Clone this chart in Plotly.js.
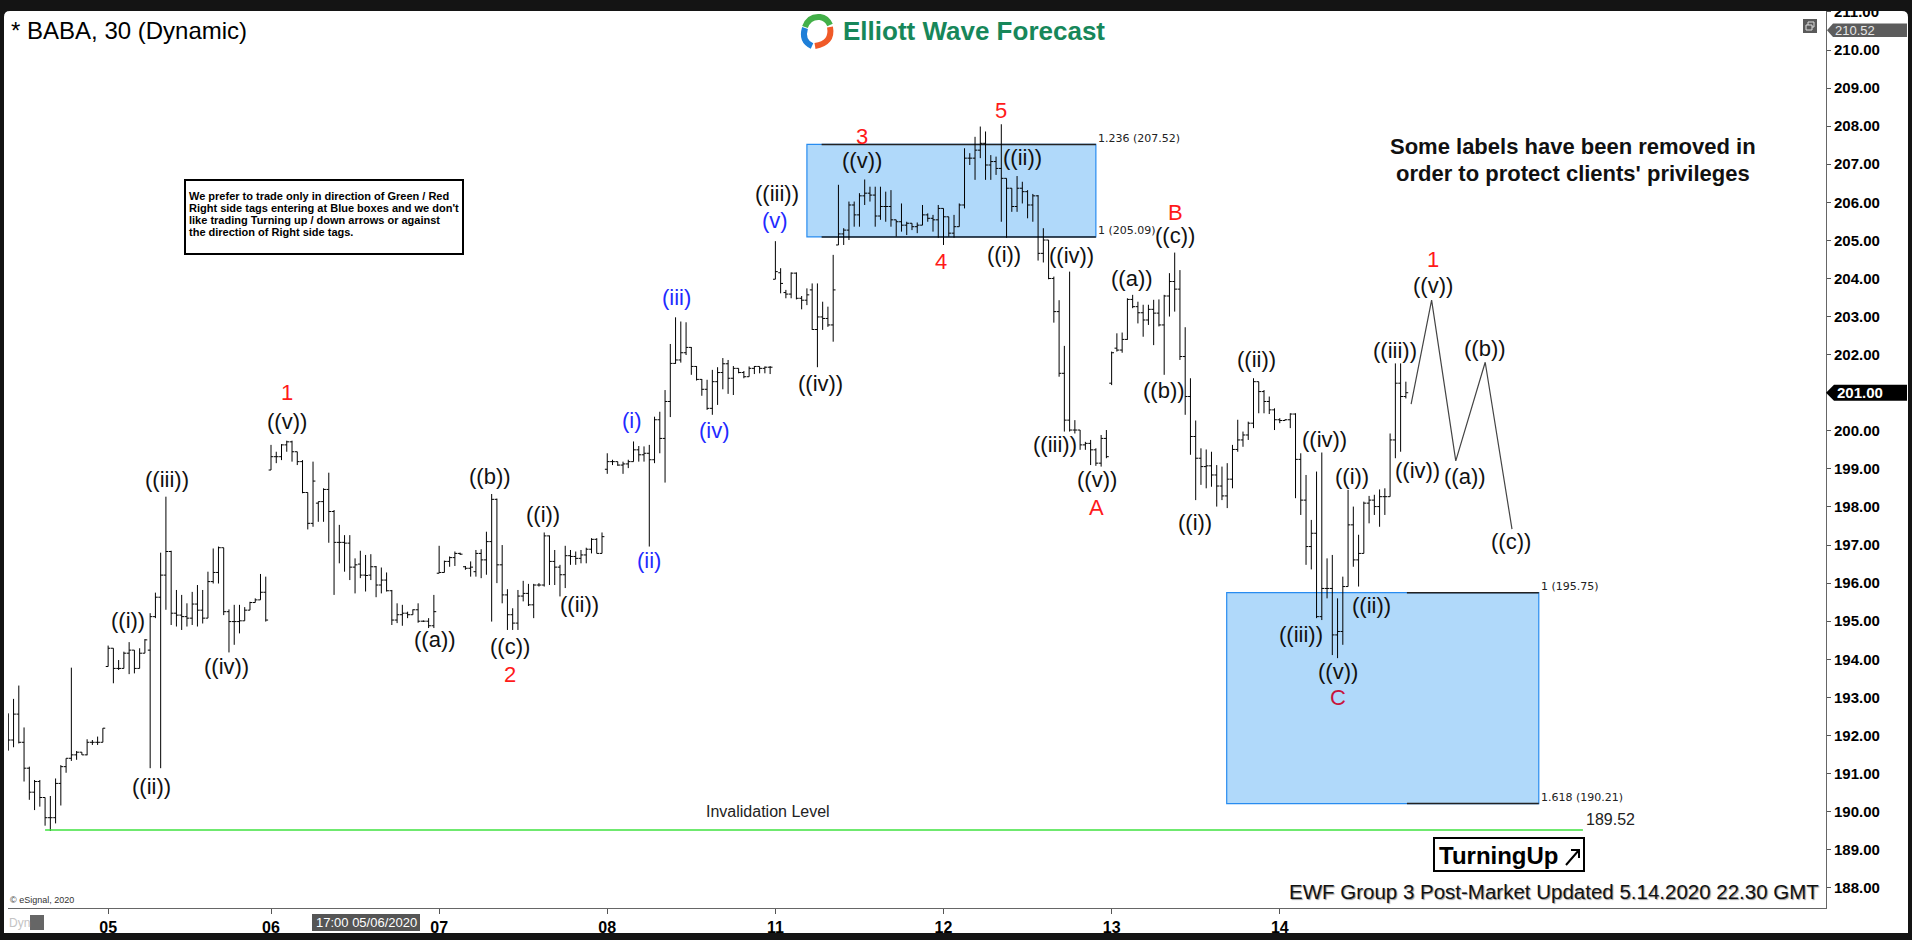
<!DOCTYPE html>
<html><head><meta charset="utf-8">
<script src="https://cdn.plot.ly/plotly-3.0.1.min.js"></script>
<style>html,body{margin:0;padding:0;background:#fff;overflow:hidden}#chart{width:1912px;height:940px}</style>
</head><body><div id="chart"></div>
<script>
// ---------------- DATA ----------------
const dayLabels = ['05','06','07','08','11','12','13','14'];
const dayStartBar = [19,50,82,114,146,178,210,242];

const opens = [192.51,191.88,192.56,191.82,191.14,190.51,190.79,190.37,189.84,189.84,
190.74,191.18,191.40,191.49,191.56,191.49,191.82,191.82,191.82,193.81,
194.29,193.76,193.76,194.16,194.24,193.76,194.16,194.24,195.12,195.63,
196.21,196.83,195.21,195.16,195.12,195.08,195.45,195.29,195.08,196.04,
196.28,196.93,195.25,194.99,194.99,195.01,195.29,195.49,195.56,195.76,
198.97,199.32,199.32,199.63,199.71,199.45,199.19,198.38,197.57,198.10,
198.14,198.46,197.88,197.07,197.07,197.05,196.42,196.50,196.21,196.21,
196.43,195.95,196.08,195.80,195.03,195.17,195.21,195.17,195.30,195.00,
195.00,194.88,196.26,196.28,196.57,196.67,196.78,196.43,196.39,196.30,
196.78,196.61,197.09,198.20,196.48,195.69,195.17,194.95,195.66,195.73,
195.43,195.95,195.95,197.24,196.57,196.42,196.22,196.72,196.70,196.65,
196.74,196.89,197.15,196.78,198.99,199.19,199.19,199.10,199.13,199.19,
199.50,199.37,199.41,199.24,200.29,199.80,200.77,201.77,201.86,202.05,
202.19,201.69,201.35,201.09,200.59,201.29,201.53,201.76,201.38,201.64,
201.53,201.42,201.64,201.69,201.64,201.67,203.98,204.15,203.63,203.59,
204.14,203.48,203.43,203.70,202.66,202.99,202.95,202.78,204.88,205.17,
205.27,205.93,205.67,206.17,206.24,206.19,205.64,205.89,205.89,205.54,
205.49,205.40,205.45,205.36,205.40,205.67,205.58,205.54,205.84,205.62,
205.19,205.36,205.93,207.16,207.16,207.37,207.55,206.98,207.07,206.89,
206.63,206.37,205.89,206.37,206.28,205.93,206.17,204.66,205.01,204.00,
203.13,201.51,200.28,200.02,200.02,199.63,199.67,199.50,199.15,199.80,
201.25,202.17,202.12,202.40,203.45,203.26,203.10,202.91,203.19,203.09,
202.78,203.54,203.92,203.72,201.95,200.90,199.85,199.28,199.06,199.08,
198.84,198.55,198.29,198.73,199.51,199.76,199.89,200.20,201.29,201.03,
200.77,200.55,200.29,200.27,200.29,200.44,199.25,198.18,196.96,197.31,
195.12,195.86,195.86,194.64,194.73,195.91,197.53,196.61,196.78,198.10,
198.18,198.01,198.27,198.27,199.76,201.25,200.90];

const highs = [192.58,192.96,193.31,192.21,191.18,190.83,190.83,190.37,190.41,190.87,
191.22,191.40,193.78,191.59,191.56,191.90,191.88,191.97,192.19,194.36,
194.29,193.98,194.20,194.45,194.24,194.29,194.53,195.21,195.75,196.80,
198.27,196.85,195.82,195.69,195.47,195.77,195.95,195.82,196.30,196.91,
196.96,196.93,195.31,195.43,195.43,195.37,195.51,195.60,196.24,196.17,
199.63,199.45,199.65,199.74,199.74,199.45,199.23,198.38,199.19,198.14,
198.49,198.90,197.92,197.53,197.26,197.26,196.65,196.85,196.74,196.76,
196.45,196.41,196.28,195.82,195.47,195.43,195.25,195.31,195.47,195.02,
195.08,195.69,196.98,196.59,196.70,196.83,196.80,196.45,196.57,196.87,
196.89,197.35,198.34,198.22,197.00,195.84,195.34,195.82,196.06,195.98,
195.98,196.00,197.33,197.25,196.87,196.48,196.98,196.87,196.83,196.87,
196.93,197.18,197.18,197.33,199.41,199.24,199.19,199.19,199.24,199.72,
199.60,199.59,199.63,200.37,200.50,201.07,202.28,202.98,202.87,202.85,
202.20,201.70,201.36,201.34,201.60,201.67,201.91,201.86,201.70,201.64,
201.57,201.69,201.70,201.69,201.69,201.70,204.98,204.27,203.70,204.16,
204.16,203.54,203.74,203.87,203.87,203.39,203.26,204.62,206.46,205.32,
206.02,206.02,206.24,206.60,206.41,206.41,206.41,206.28,206.32,205.54,
205.97,205.49,205.45,205.47,205.93,205.71,205.67,205.93,205.84,205.62,
205.67,205.97,207.42,207.29,207.72,207.99,207.86,207.24,207.20,208.05,
206.63,206.37,206.69,206.54,206.32,206.22,206.19,205.32,205.01,204.05,
203.43,202.23,204.18,200.28,200.02,199.71,199.76,199.54,199.89,200.02,
202.08,202.56,202.58,203.48,203.57,203.39,203.31,203.31,203.44,203.45,
203.57,204.14,204.68,204.22,202.72,201.38,200.27,199.54,199.51,199.45,
199.10,199.06,199.15,199.63,200.29,199.98,200.24,201.38,201.29,201.07,
200.90,200.59,200.33,200.30,200.46,200.46,199.41,198.84,197.66,198.93,
199.43,196.65,196.74,195.60,196.17,198.45,198.01,197.27,198.14,198.29,
198.32,198.46,198.49,199.93,201.77,201.77,201.29];

const lows = [191.60,191.69,191.79,190.79,190.31,190.04,190.13,189.63,189.49,189.69,
190.16,191.02,191.33,191.36,191.49,191.48,191.75,191.75,191.82,193.81,
193.37,193.72,193.76,193.61,193.63,193.76,194.16,191.14,195.08,191.14,
195.30,194.90,194.86,194.77,194.86,194.90,194.86,194.94,195.08,195.99,
195.99,195.16,194.18,194.38,194.68,195.01,195.29,195.49,195.56,194.99,
198.97,199.15,199.23,199.45,199.19,199.10,198.36,197.41,197.48,197.61,
197.61,197.06,195.69,196.52,196.30,196.08,195.73,196.13,195.78,196.08,
195.63,195.73,195.78,194.90,194.95,194.88,195.08,195.17,194.96,194.98,
194.82,194.82,196.26,196.28,196.43,196.45,196.74,196.35,196.17,196.17,
196.13,196.22,194.99,196.00,195.47,194.77,194.77,194.77,195.52,195.40,
195.08,195.91,195.91,195.95,195.95,195.65,195.87,196.48,196.48,196.52,
196.52,196.78,196.78,196.78,198.87,199.10,199.08,198.87,199.02,199.19,
199.19,199.19,196.96,199.15,199.41,198.64,200.36,201.76,201.79,201.99,
201.47,201.32,200.92,200.55,200.42,200.68,201.09,200.97,200.94,201.51,
201.38,201.42,201.49,201.51,201.51,201.49,203.98,203.61,203.48,203.48,
203.45,203.19,203.30,202.65,201.67,202.65,202.73,202.34,204.88,204.88,
205.01,205.36,205.36,205.93,206.02,205.36,205.54,205.49,205.36,205.10,
205.23,205.14,205.27,205.19,205.40,205.49,205.23,205.07,204.88,205.10,
205.07,205.36,205.84,206.98,206.59,207.16,206.59,206.59,206.72,205.49,
205.07,205.75,205.75,205.97,205.58,205.49,204.47,204.42,203.98,202.84,
201.42,199.98,199.98,199.93,199.50,199.50,199.10,199.08,199.06,199.28,
201.20,202.08,202.05,202.39,203.22,202.82,202.47,202.78,202.25,202.74,
201.47,203.00,203.13,201.86,200.42,199.37,198.18,198.58,198.49,198.53,
198.01,198.18,197.97,198.49,199.45,199.58,199.76,200.07,200.46,200.46,
200.44,200.02,200.20,200.27,200.07,198.23,197.79,196.48,196.36,195.08,
195.03,195.60,194.11,194.03,194.38,195.91,196.43,195.91,196.78,197.57,
197.79,197.48,197.79,198.27,199.28,199.45,200.85];

const closes = [191.88,192.56,191.82,191.14,190.51,190.79,190.37,189.84,189.84,190.74,
191.18,191.40,191.49,191.56,191.49,191.82,191.82,191.82,192.19,194.29,
193.76,193.76,194.16,194.24,193.76,194.16,194.51,195.12,195.63,196.21,
196.83,195.21,195.16,195.12,195.08,195.45,195.29,195.08,196.04,196.28,
196.93,195.25,194.99,194.99,195.01,195.29,195.49,195.56,195.76,195.03,
199.32,199.32,199.63,199.71,199.45,199.19,198.38,197.57,198.68,198.14,
198.46,197.88,197.07,197.07,197.05,196.42,196.48,196.21,196.20,196.43,
195.95,196.08,195.80,195.03,195.17,195.21,195.17,195.30,195.00,195.00,
194.88,195.25,196.28,196.57,196.67,196.78,196.76,196.39,196.42,196.78,
196.61,197.09,198.20,196.48,195.69,195.17,194.95,195.66,195.73,195.43,
195.95,195.95,197.24,196.57,196.42,196.22,196.72,196.70,196.65,196.74,
196.89,197.15,196.78,197.22,199.19,199.19,199.10,199.13,199.19,199.50,
199.37,199.41,199.24,200.29,199.80,200.77,201.77,201.86,202.05,202.19,
201.69,201.35,201.09,200.59,201.29,201.53,201.76,201.38,201.64,201.53,
201.42,201.64,201.69,201.64,201.67,201.67,204.18,203.87,203.59,204.14,
203.48,203.43,203.57,202.66,202.99,202.95,202.78,203.70,205.17,205.27,
205.93,205.67,206.17,206.24,206.19,205.64,205.89,205.89,205.54,205.49,
205.40,205.45,205.36,205.40,205.67,205.58,205.54,205.84,205.62,205.19,
205.36,205.93,207.16,207.16,207.37,207.55,206.98,207.07,206.89,206.63,
206.37,205.89,206.37,206.28,205.93,206.17,204.66,205.01,204.00,203.13,
201.51,200.28,200.02,200.02,199.63,199.67,199.50,199.15,199.80,199.32,
202.05,202.12,202.40,203.45,203.26,203.10,202.91,203.19,203.09,202.78,
203.54,203.92,203.72,201.95,200.90,199.85,199.28,199.06,199.08,198.84,
198.55,198.29,198.73,199.51,199.76,199.89,200.20,201.29,201.03,200.77,
200.55,200.29,200.27,200.29,200.44,199.25,198.18,196.96,197.31,195.12,
195.86,195.86,194.64,194.73,195.91,197.53,196.61,196.78,198.10,198.18,
198.01,198.27,198.27,199.76,201.25,200.90,201.00];

// Elliott wave labels (anchor: bar index, price)
const waveText = ['1','((v))','((iii))','((i))','((iv))','((ii))','((b))','((a))','((c))','2',
 '((i))','((ii))','(i)','(ii)','(iii)','(iv)','(v)','((iii))','((iv))','3',
 '((v))','4','5','((ii))','((i))','((iv))','((iii))','((v))','A','B',
 '((c))','((a))','((b))','((i))','((ii))','((iv))','((i))','((iii))','((ii))','((v))',
 'C','((iii))','((iv))','1','((v))','((a))','((b))','((c))'];
const waveBar = [53.0,53.0,30.15,22.7,41.6,27.2,91.7,81.2,95.4,95.4,
 101.8,108.7,118.65,121.9,127.1,134.4,145.9,146.3,154.5,162.5,
 162.4,177.6,188.9,193.0,189.6,202.3,199.2,207.3,207.2,222.2,
 222.1,213.8,220.0,225.9,237.5,250.6,255.8,246.0,259.5,253.1,
 253.1,263.9,268.3,271.1,271.1,277.2,281.1,286.0];
const wavePrice = [201.0,200.24,198.73,195.03,193.82,190.67,198.80,194.51,194.33,193.6,
 197.79,195.43,200.27,196.59,203.5,200.02,205.51,206.24,201.25,207.72,
 207.11,204.44,208.41,207.17,204.64,204.60,199.65,198.71,197.99,205.73,
 205.14,204.0,201.07,197.59,201.86,199.78,198.80,194.64,195.40,193.67,
 193.0,202.12,198.95,204.49,203.82,198.79,202.16,197.09];
const waveKind = ['r','k','k','k','k','k','k','k','k','r',
 'k','k','b','b','b','b','b','k','k','r',
 'k','r','r','k','k','k','k','k','r','r',
 'k','k','k','k','k','k','k','k','k','k',
 'c','k','k','r','k','k','k','k'];

// projected path
const projBar = [267.0, 270.9, 275.5, 281.1, 286.2];
const projPrice = [200.70, 203.43, 199.21, 201.80, 197.42];

// fib boxes
const fibBox1 = {bars:[152.0, 207.0], levels:[207.52, 205.09], labels:['1.236 (207.52)','1 (205.09)']};
const fibBox2 = {bars:[231.9, 291.3], levels:[195.75, 190.21], labels:['1 (195.75)','1.618 (190.21)']};
const invalidation = 189.52;
const invalBars = [7.0, 299.7];
const lastTag = 210.52;

// ---------------- GEOMETRY ----------------
const W=1912,H=940,ML=8,MR=86,MT=10,MB=32;
const PW=W-ML-MR, PH=H-MT-MB;
const BAR0=8.3, BARW=5.254, PY0=50, PPU=38.08;
const xr=[(ML-BAR0)/BARW,(W-MR-BAR0)/BARW];
const yr=[210-(H-MB-PY0)/PPU, 210+(PY0-MT)/PPU];
const fx=x=>(x-ML)/PW, fy=y=>1-(y-MT)/PH;
const priceY = p => PY0 + (210-p)*PPU;
function pp(s){const t=s.trim().split(/\s+/);let out=[],n=[];for(const k of t){if(/^[A-Za-z]$/.test(k)){out.push(k);}else{n.push(+k);if(n.length===2){out.push(fx(n[0]).toFixed(6)+','+fy(n[1]).toFixed(6));n=[];}}}return out.join(' ');}
const AR='Liberation Sans, Arial, sans-serif';
function T(text,x,y,size,o){o=o||{};return {text:text,x:fx(x),y:fy(y),xref:'paper',yref:'paper',showarrow:false,
  xanchor:o.xa||'left',yanchor:'middle',font:Object.assign({family:o.fam||AR,size:size,color:o.color||'#000'},o.weight?{weight:o.weight}:{},o.shadow?{shadow:o.shadow}:{}),
  bgcolor:o.bg,borderpad:0};}

// ---------------- TRACES ----------------
const xs = opens.map((_,i)=>i);
const traces = [
 {type:'ohlc',x:xs,open:opens,high:highs,low:lows,close:closes,
  increasing:{line:{color:'#000',width:1}},decreasing:{line:{color:'#000',width:1}},
  tickwidth:0.45,hoverinfo:'skip',showlegend:false},
 {type:'scatter',mode:'lines',x:invalBars,y:[invalidation,invalidation],line:{color:'#3fe23f',width:1.5},hoverinfo:'skip',showlegend:false},
 {type:'scatter',mode:'lines',x:projBar,y:projPrice,line:{color:'#444',width:1.2},hoverinfo:'skip',showlegend:false}
];

// ---------------- SHAPES ----------------
const boxFill='rgb(176,217,250)', boxLine='rgb(40,140,240)';
const shapes = [];
[fibBox1,fibBox2].forEach((b,k)=>{
  shapes.push({type:'rect',xref:'x',yref:'y',x0:b.bars[0],x1:b.bars[1],y0:b.levels[1],y1:b.levels[0],fillcolor:boxFill,line:{color:boxLine,width:1.2},layer:'below'});
});
const lineStart=[154.8,266.2];
[fibBox1,fibBox2].forEach((b,k)=>{
  b.levels.forEach(l=>shapes.push({type:'line',xref:'x',yref:'y',x0:lineStart[k],x1:b.bars[1],y0:l,y1:l,line:{color:'#222',width:1.5},layer:'below'}));
});
// frame
shapes.push({type:'path',xref:'paper',yref:'paper',fillrule:'evenodd',fillcolor:'#141414',line:{width:0},layer:'above',
  path:pp('M 0 0 L 1912 0 L 1912 940 L 0 940 Z M 4 17 Q 4 11 10 11 L 1902 11 Q 1908 11 1908 17 L 1908 933 L 4 933 Z')});
// note box
shapes.push({type:'rect',xref:'paper',yref:'paper',x0:fx(185),x1:fx(463),y0:fy(180),y1:fy(254),line:{color:'#000',width:2},layer:'above'});
// TurningUp box + arrow
shapes.push({type:'rect',xref:'paper',yref:'paper',x0:fx(1434),x1:fx(1584),y0:fy(838),y1:fy(871),line:{color:'#000',width:2},fillcolor:'#fff',layer:'above'});
shapes.push({type:'path',xref:'paper',yref:'paper',line:{color:'#000',width:2},layer:'above',path:pp('M 1566 865 L 1579 850 M 1571 850 L 1579 850 L 1579 858')});
// price tags
const ly=priceY(lastTag), cy=priceY(closes[closes.length-1]);
shapes.push({type:'path',xref:'paper',yref:'paper',fillcolor:'#5c5c5c',line:{width:0},layer:'above',path:pp(`M 1827 ${ly} L 1833 ${ly-6.7} L 1907 ${ly-6.7} L 1907 ${ly+6.7} L 1833 ${ly+6.7} Z`)});
shapes.push({type:'path',xref:'paper',yref:'paper',fillcolor:'#000',line:{width:0},layer:'above',path:pp(`M 1826 ${cy} L 1834 ${cy-8} L 1907 ${cy-8} L 1907 ${cy+8} L 1834 ${cy+8} Z`)});
// restore icon
shapes.push({type:'rect',xref:'paper',yref:'paper',x0:fx(1803),x1:fx(1817),y0:fy(19),y1:fy(33),fillcolor:'#5a5a5a',line:{width:0},layer:'above'});
shapes.push({type:'rect',xref:'paper',yref:'paper',x0:fx(1806),x1:fx(1812),y0:fy(25),y1:fy(30),line:{color:'#ddd',width:1},layer:'above'});
shapes.push({type:'path',xref:'paper',yref:'paper',line:{color:'#ddd',width:1},layer:'above',path:pp('M 1808 25 L 1808 22 L 1814 22 L 1814 27 L 1812 27')});
// date tag at x axis
shapes.push({type:'rect',xref:'paper',yref:'paper',x0:fx(312),x1:fx(420),y0:fy(914),y1:fy(931),fillcolor:'#555',line:{width:0},layer:'above'});
// lock icon
shapes.push({type:'rect',xref:'paper',yref:'paper',x0:fx(30),x1:fx(44),y0:fy(915),y1:fy(930),fillcolor:'#666',line:{width:0},layer:'above'});
// logo swirl
shapes.push({type:'path',xref:'paper',yref:'paper',line:{color:'#43b049',width:6},layer:'above',path:pp('M 805 27 Q 809 16 820 17 Q 827 18 830 25')});
shapes.push({type:'path',xref:'paper',yref:'paper',line:{color:'#1e7fd8',width:6},layer:'above',path:pp('M 805 28 Q 801 41 812 46')});
shapes.push({type:'path',xref:'paper',yref:'paper',line:{color:'#f05a28',width:6},layer:'above',path:pp('M 830 27 Q 833 43 815 46')});

// ---------------- ANNOTATIONS ----------------
const kindColor={k:'#111',b:'#1f2bff',r:'#ff1a1a',c:'#c8143c'};
const ann = waveText.map((t,i)=>({text:t,x:waveBar[i],y:wavePrice[i],xref:'x',yref:'y',showarrow:false,xanchor:'center',yanchor:'middle',
  font:{family:AR,size:22,color:kindColor[waveKind[i]]}}));
[fibBox1,fibBox2].forEach((b,k)=>{
  b.labels.forEach((lab,j)=>{
    const px = BAR0 + b.bars[1]*BARW + 1;
    const yy = priceY(b.levels[j]) - 6;
    ann.push(T(lab,px,yy,11,{fam:'DejaVu Sans, sans-serif',color:'#222'}));
  });
});
ann.push(T('* BABA, 30 (Dynamic)',10,30,24));
ann.push(T('Elliott Wave Forecast',842,31,26,{color:'#17875a',weight:'bold'}));
const noteLines=['We prefer to trade only in direction of Green / Red','Right side tags entering at Blue boxes and we don\'t','like trading Turning up / down arrows or against','the direction of Right side tags.'];
const noteY=[195.7,207.7,220,232.3];
noteLines.forEach((l,i)=>ann.push(T(l,188,noteY[i],11,{weight:'bold'})));
ann.push(T('Some labels have been removed in',1573,146.7,22,{xa:'center',weight:'bold',color:'#111'}));
ann.push(T('order to protect clients\' privileges',1573,173.3,22,{xa:'center',weight:'bold',color:'#111'}));
ann.push(T('Invalidation Level',768,811,16,{xa:'center',color:'#222'}));
ann.push(T(invalidation.toFixed(2),1585,priceY(invalidation)-10,16,{color:'#222'}));
ann.push(T('TurningUp',1438,855,24,{weight:'bold'}));
ann.push(T('EWF Group 3 Post-Market Updated 5.14.2020 22.30 GMT',1820,891,20.5,{xa:'right',color:'#111',shadow:'1px 1px 1px #999'}));
ann.push(T(lastTag.toFixed(2),1834,ly,13,{color:'#e6e6e6'}));
ann.push(T(closes[closes.length-1].toFixed(2),1836,cy,15,{color:'#fff',weight:'bold'}));
ann.push(T('17:00 05/06/2020',366,923,13,{xa:'center',color:'#fff'}));
ann.push(T('© eSignal, 2020',9,900,9,{color:'#333'}));
ann.push(T('Dyn',8,923,12,{color:'#c4c4c4'}));

const layout = {
  width:W,height:H,margin:{l:ML,r:MR,t:MT,b:MB,pad:0},
  paper_bgcolor:'#fff',plot_bgcolor:'#fff',showlegend:false,hovermode:false,dragmode:false,
  font:{family:AR,color:'#000'},
  xaxis:{range:xr,type:'linear',rangeslider:{visible:false},showgrid:false,zeroline:false,
    tickmode:'array',tickvals:dayStartBar,ticktext:dayLabels,ticks:'outside',ticklen:5,tickcolor:'#555',
    tickfont:{family:AR,size:16,color:'#000',weight:'bold'},showline:true,linecolor:'#666',linewidth:1,fixedrange:true},
  yaxis:{range:yr,side:'right',showgrid:false,zeroline:false,tick0:0,dtick:1,tickformat:'.2f',ticks:'outside',ticklen:4,tickcolor:'#555',
    tickfont:{family:AR,size:15,color:'#000',weight:'bold'},showline:true,linecolor:'#666',linewidth:1,fixedrange:true},
  shapes:shapes,annotations:ann
};
Plotly.newPlot('chart',traces,layout,{staticPlot:true,displayModeBar:false});
</script>
</body></html>
